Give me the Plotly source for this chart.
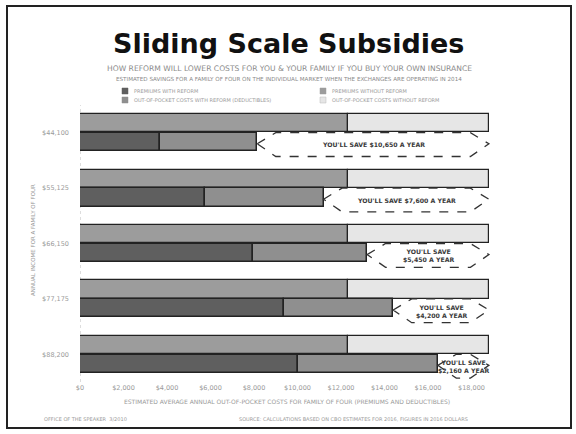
import plotly.graph_objects as go

# ---------------- data ----------------
incomes = ["$44,100", "$55,125", "$66,150", "$77,175", "$88,200"]
without_premium = [12300, 12300, 12300, 12300, 12300]
without_oop = [6500, 6500, 6500, 6500, 6500]
with_premium = [3700, 5750, 7950, 9400, 10000]
with_oop = [4450, 5450, 5250, 5000, 6450]
savings_labels = ["YOU'LL SAVE $10,650 A YEAR", "YOU'LL SAVE $7,600 A YEAR",
                  "YOU'LL SAVE<br>$5,450 A YEAR", "YOU'LL SAVE<br>$4,200 A YEAR",
                  "YOU'LL SAVE<br>$2,160 A YEAR"]
tick_values = [0, 2000, 4000, 6000, 8000, 10000, 12000, 14000, 16000, 18000]
tick_labels = ["$0", "$2,000", "$4,000", "$6,000", "$8,000", "$10,000",
               "$12,000", "$14,000", "$16,000", "$18,000"]
legend_labels = ["PREMIUMS WITH REFORM", "OUT-OF-POCKET COSTS WITH REFORM (DEDUCTIBLES)",
                 "PREMIUMS WITHOUT REFORM", "OUT-OF-POCKET COSTS WITHOUT REFORM"]

title = "Sliding Scale Subsidies"
subtitle1 = "HOW REFORM WILL LOWER COSTS FOR YOU & YOUR FAMILY IF YOU BUY YOUR OWN INSURANCE"
subtitle2 = "ESTIMATED SAVINGS FOR A FAMILY OF FOUR ON THE INDIVIDUAL MARKET WHEN THE EXCHANGES ARE OPERATING IN 2014"
xtitle = "ESTIMATED AVERAGE ANNUAL OUT-OF-POCKET COSTS FOR FAMILY OF FOUR (PREMIUMS AND DEDUCTIBLES)"
ytitle = "ANNUAL INCOME FOR A FAMILY OF FOUR"
footer_left = "OFFICE OF THE SPEAKER  3/2010"
footer_right = "SOURCE: CALCULATIONS BASED ON CBO ESTIMATES FOR 2016, FIGURES IN 2016 DOLLARS"

# ---------------- style ----------------
C_WITH_P = "#5f5f5f"
C_WITH_O = "#8f8f8f"
C_WO_P = "#9c9c9c"
C_WO_O = "#e6e6e6"
OUTLINE = "#222222"
TXT = "#9a9a9a"
FONT = "DejaVu Sans"

W, H = 576, 434
ML, MR, MT, MB = 80, 61, 105, 52
PW, PH = W - ML - MR, H - MT - MB

cats = list(range(len(incomes)))
upper_y = [c - 0.17 for c in cats]
lower_y = [c + 0.17 for c in cats]
bw = 0.33

fig = go.Figure()
fig.add_trace(go.Bar(orientation="h", y=upper_y, x=without_premium, width=bw,
                     marker=dict(color=C_WO_P, line=dict(color=OUTLINE, width=1.2)),
                     name=legend_labels[2]))
fig.add_trace(go.Bar(orientation="h", y=upper_y, x=without_oop, base=without_premium, width=bw,
                     marker=dict(color=C_WO_O, line=dict(color=OUTLINE, width=1.2)),
                     name=legend_labels[3]))
fig.add_trace(go.Bar(orientation="h", y=lower_y, x=with_premium, width=bw,
                     marker=dict(color=C_WITH_P, line=dict(color=OUTLINE, width=1.5)),
                     name=legend_labels[0]))
fig.add_trace(go.Bar(orientation="h", y=lower_y, x=with_oop, base=with_premium, width=bw,
                     marker=dict(color=C_WITH_O, line=dict(color=OUTLINE, width=1.5)),
                     name=legend_labels[1]))

shapes = []
annotations = []

# savings arrows (dashed hexagons) between reformed total and unreformed total
d = 850
for c in cats:
    a = with_premium[c] + with_oop[c]
    b = without_premium[c] + without_oop[c]
    yt, ym, yb = c + 0.0, c + 0.2, c + 0.43
    path = (f"M {a},{ym} L {a+d},{yt} L {b-d},{yt} L {b},{ym} "
            f"L {b-d},{yb} L {a+d},{yb} Z")
    shapes.append(dict(type="path", path=path, xref="x", yref="y",
                       line=dict(color="#333333", width=1.3, dash="dash"), layer="above"))
    annotations.append(dict(x=(a + b) / 2, y=c + 0.22, xref="x", yref="y",
                            text=f"<b>{savings_labels[c]}</b>", showarrow=False,
                            xanchor="center", yanchor="middle",
                            font=dict(family=FONT, size=6.2, color="#3a3a3a")))

# dotted y axis line
shapes.append(dict(type="line", xref="x", yref="paper", x0=0, x1=0, y0=0, y1=1,
                   line=dict(color="#bbbbbb", width=1, dash="dot"), layer="below"))

def px_x(p):
    return (p - ML) / PW

def px_y(p):
    return (H - MB - p) / PH

# slide border
shapes.append(dict(type="rect", xref="paper", yref="paper",
                   x0=px_x(7), x1=px_x(571), y0=px_y(428), y1=px_y(6),
                   line=dict(color="#222222", width=2)))

def note(text, x, y, size, color=TXT, xanchor="center", angle=0):
    annotations.append(dict(text=text, x=px_x(x), y=px_y(y), xref="paper", yref="paper",
                            xanchor=xanchor, yanchor="middle", showarrow=False,
                            textangle=angle, font=dict(family=FONT, size=size, color=color)))

# title & subtitles
note(f"<b>{title}</b>", 288, 44, 27, "#111111")
note(subtitle1, 289, 69, 7.6, "#8a8a8a")
note(subtitle2, 289, 79, 5.6, "#8a8a8a")

# legend
leg_pos = [(125, 91), (125, 100), (323, 91), (323, 100)]
leg_cols = [C_WITH_P, C_WITH_O, C_WO_P, C_WO_O]
for (lx, ly), lab, col in zip(leg_pos, legend_labels, leg_cols):
    shapes.append(dict(type="rect", xref="paper", yref="paper",
                       x0=px_x(lx - 3), x1=px_x(lx + 3), y0=px_y(ly + 3), y1=px_y(ly - 3),
                       fillcolor=col, line=dict(color="#bbbbbb" if col == C_WO_O else col, width=0.5)))
    note(lab, lx + 7, ly, 5, xanchor="left")

# axis titles & footers
note(xtitle, 287, 401, 6)
note(ytitle, 33, 240, 5.5, angle=-90)
note(footer_left, 42, 419, 5, xanchor="left")
note(footer_right, 470, 419, 5, xanchor="right")

fig.update_layout(
    width=W, height=H, margin=dict(l=ML, r=MR, t=MT, b=MB),
    paper_bgcolor="white", plot_bgcolor="white",
    barmode="overlay", showlegend=False, bargap=0,
    shapes=shapes, annotations=annotations,
    xaxis=dict(range=[0, 20000], tickvals=tick_values, ticktext=tick_labels,
               showgrid=False, zeroline=False, showline=False, ticks="",
               tickfont=dict(family=FONT, size=6.5, color=TXT), ticklabelstandoff=0),
    yaxis=dict(range=[4.5, -0.5], tickvals=cats, ticktext=incomes,
               showgrid=False, zeroline=False, showline=False, ticks="",
               tickfont=dict(family=FONT, size=6.5, color=TXT), ticklabelstandoff=10),
)

fig.write_html("out.html")
